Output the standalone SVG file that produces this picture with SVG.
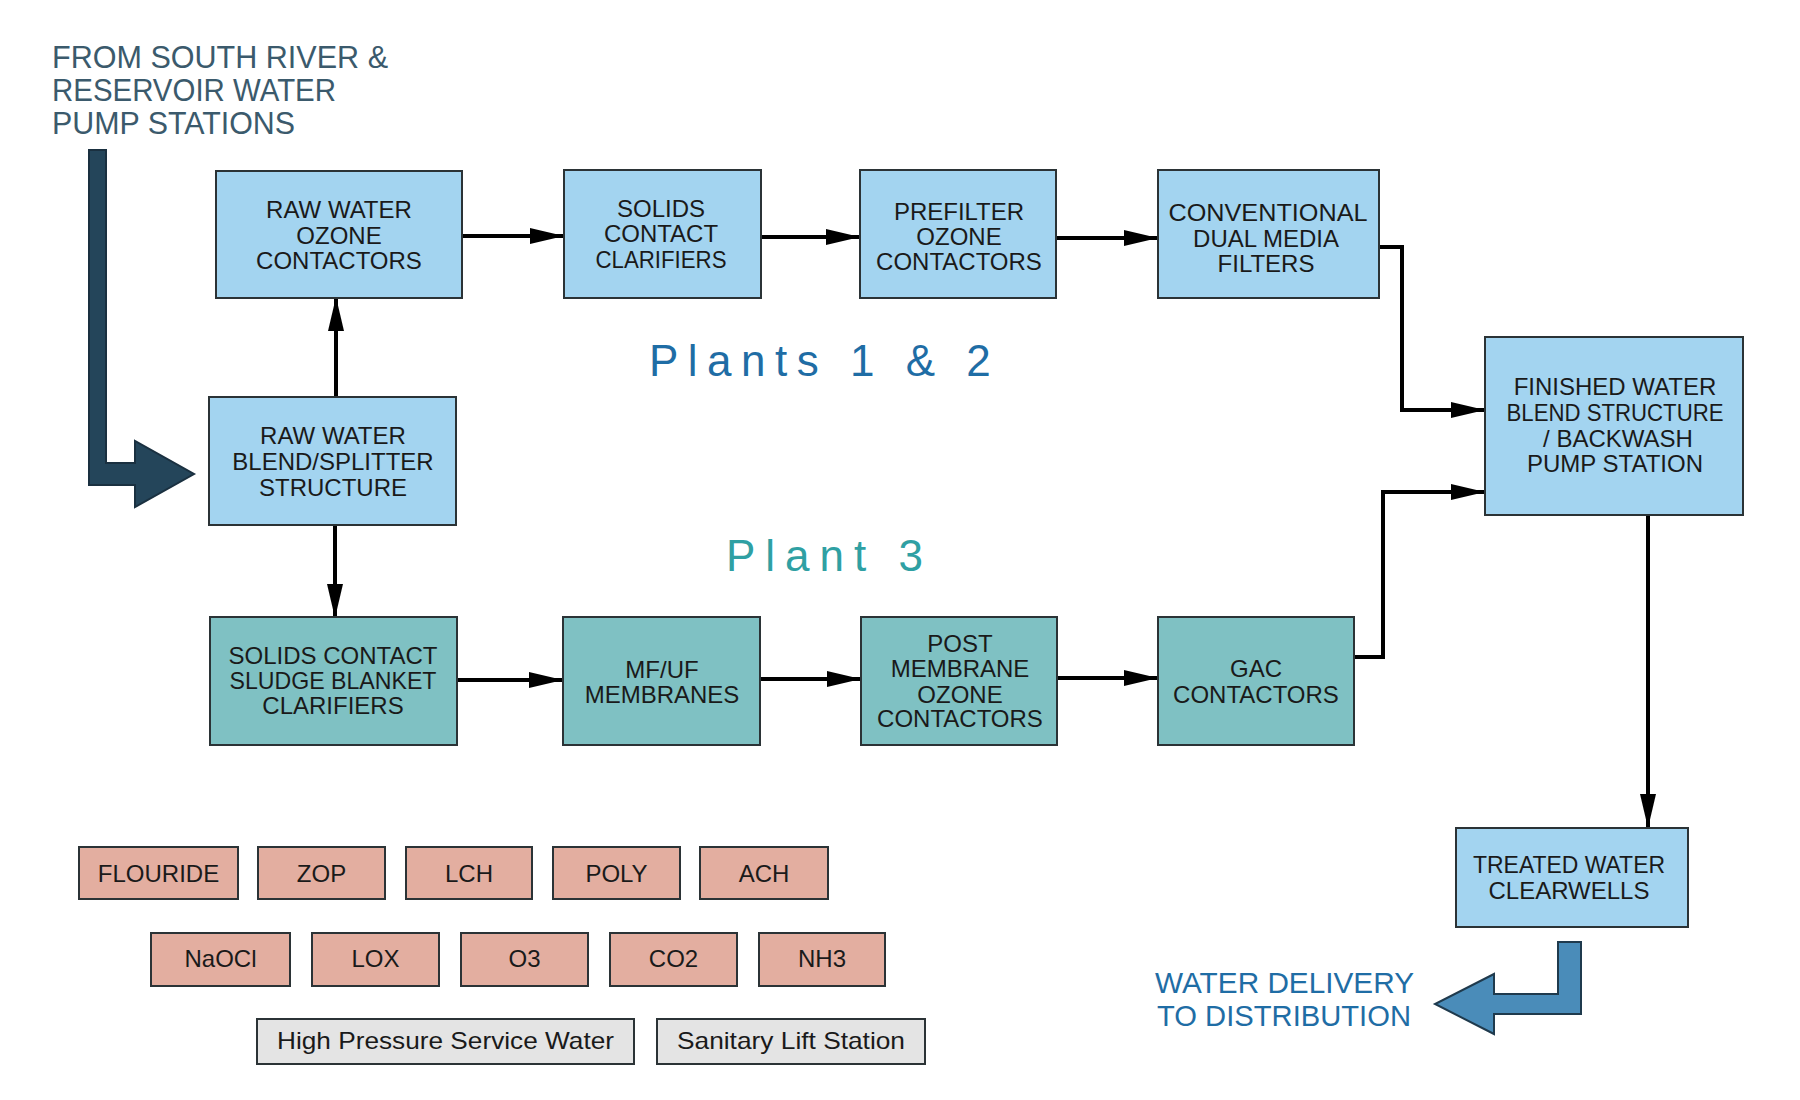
<svg xmlns="http://www.w3.org/2000/svg" width="1800" height="1100" viewBox="0 0 1800 1100">
<defs>
<style>
.lb{fill:#a3d4f0;stroke:#2b3336;stroke-width:2}
.tl{fill:#7fc1c3;stroke:#2b3336;stroke-width:2}
.pk{fill:#e3aea0;stroke:#2b3336;stroke-width:2}
.gy{fill:#e4e4e4;stroke:#2b3336;stroke-width:2}
.t{font-family:"Liberation Sans",Arial,sans-serif;font-size:24px;fill:#1a1a1a;text-anchor:middle}
.ti{font-family:"Liberation Sans",Arial,sans-serif;font-size:31px;fill:#3b5a6c}
.dl{font-family:"Liberation Sans",Arial,sans-serif;font-size:29px;fill:#1f6da5}
.c{fill:none;stroke:#000;stroke-width:4;marker-end:url(#ah)}
</style>
<marker id="ah" markerUnits="userSpaceOnUse" viewBox="0 0 34 16" markerWidth="34" markerHeight="16" refX="33" refY="8" orient="auto">
<path d="M0,0 L34,8 L0,16 Z" fill="#000"/>
</marker>
</defs>
<rect width="1800" height="1100" fill="#fff"/>

<g id="title">
<text class="ti" x="52" y="68" textLength="336" lengthAdjust="spacingAndGlyphs">FROM SOUTH RIVER &amp;</text>
<text class="ti" x="52" y="101" textLength="284" lengthAdjust="spacingAndGlyphs">RESERVOIR WATER</text>
<text class="ti" x="52" y="134" textLength="243" lengthAdjust="spacingAndGlyphs">PUMP STATIONS</text>
</g>
<g id="inflow-arrow">
<path d="M89,150 H106 V463 H135 V441 L194,474 L135,507 V485 H89 Z" fill="#24455a" stroke="#1a3040" stroke-width="2"/>
</g>

<g id="connectors">
<path class="c" d="M336,397 V298"/>
<path class="c" d="M335,525 V617"/>
<path class="c" d="M462,236 H563"/>
<path class="c" d="M761,237 H859"/>
<path class="c" d="M1056,238 H1157"/>
<path class="c" d="M1379,247 H1402 V410 H1484"/>
<path class="c" d="M457,680 H562"/>
<path class="c" d="M760,679 H860"/>
<path class="c" d="M1057,678 H1157"/>
<path class="c" d="M1354,657 H1383 V492 H1484"/>
<path class="c" d="M1648,515 V827"/>
</g>

<g id="raw-ozone"><rect class="lb" x="216" y="171" width="246" height="127"/>
<text class="t" x="339" y="218">RAW WATER</text><text class="t" x="339" y="244">OZONE</text><text class="t" x="339" y="269">CONTACTORS</text></g>
<g id="blend"><rect class="lb" x="209" y="397" width="247" height="128"/>
<text class="t" x="333" y="444">RAW WATER</text><text class="t" x="333" y="470">BLEND/SPLITTER</text><text class="t" x="333" y="496">STRUCTURE</text></g>
<g id="solids"><rect class="lb" x="564" y="170" width="197" height="128"/>
<text class="t" x="661" y="217">SOLIDS</text><text class="t" x="661" y="242">CONTACT</text><text class="t" x="661" y="268" textLength="131" lengthAdjust="spacingAndGlyphs">CLARIFIERS</text></g>
<g id="prefilter"><rect class="lb" x="860" y="170" width="196" height="128"/>
<text class="t" x="959" y="220">PREFILTER</text><text class="t" x="959" y="245">OZONE</text><text class="t" x="959" y="270">CONTACTORS</text></g>
<g id="conventional"><rect class="lb" x="1158" y="170" width="221" height="128"/>
<text class="t" x="1268" y="221" textLength="199" lengthAdjust="spacingAndGlyphs">CONVENTIONAL</text><text class="t" x="1266" y="247">DUAL MEDIA</text><text class="t" x="1266" y="272">FILTERS</text></g>
<g id="finished"><rect class="lb" x="1485" y="337" width="258" height="178"/>
<text class="t" x="1615" y="395">FINISHED WATER</text><text class="t" x="1615" y="421" textLength="217" lengthAdjust="spacingAndGlyphs">BLEND STRUCTURE</text><text class="t" x="1618" y="447">/ BACKWASH</text><text class="t" x="1615" y="472">PUMP STATION</text></g>
<g id="sludge"><rect class="tl" x="210" y="617" width="247" height="128"/>
<text class="t" x="333" y="664">SOLIDS CONTACT</text><text class="t" x="333" y="689" textLength="207" lengthAdjust="spacingAndGlyphs">SLUDGE BLANKET</text><text class="t" x="333" y="714">CLARIFIERS</text></g>
<g id="mfuf"><rect class="tl" x="563" y="617" width="197" height="128"/>
<text class="t" x="662" y="678">MF/UF</text><text class="t" x="662" y="703">MEMBRANES</text></g>
<g id="post"><rect class="tl" x="861" y="617" width="196" height="128"/>
<text class="t" x="960" y="652">POST</text><text class="t" x="960" y="677">MEMBRANE</text><text class="t" x="960" y="703">OZONE</text><text class="t" x="960" y="727">CONTACTORS</text></g>
<g id="gac"><rect class="tl" x="1158" y="617" width="196" height="128"/>
<text class="t" x="1256" y="677">GAC</text><text class="t" x="1256" y="703">CONTACTORS</text></g>
<g id="treated"><rect class="lb" x="1456" y="828" width="232" height="99"/>
<text class="t" x="1569" y="873" textLength="192" lengthAdjust="spacingAndGlyphs">TREATED WATER</text><text class="t" x="1569" y="899">CLEARWELLS</text></g>

<g id="plants12"><text x="649" y="376" font-family="Liberation Sans, Arial, sans-serif" font-size="44" letter-spacing="9.5" fill="#1f6da5">Plants 1 &amp; 2</text></g>
<g id="plant3"><text x="726" y="571" font-family="Liberation Sans, Arial, sans-serif" font-size="44" letter-spacing="10" fill="#2fa0a3">Plant 3</text></g>

<g id="delivery-arrow">
<path d="M1558,942 H1581 V1014 H1494 V1034 L1435,1004 L1494,974 V994 H1558 Z" fill="#4a8cb9" stroke="#1f3a4d" stroke-width="2"/>
</g>
<g id="delivery-label">
<text class="dl" x="1155" y="993" textLength="259" lengthAdjust="spacingAndGlyphs">WATER DELIVERY</text>
<text class="dl" x="1157" y="1026" textLength="254" lengthAdjust="spacingAndGlyphs">TO DISTRIBUTION</text>
</g>

<g id="flouride"><rect class="pk" x="79" y="847" width="159" height="52"/><text class="t" x="158.5" y="882">FLOURIDE</text></g>
<g id="zop"><rect class="pk" x="258" y="847" width="127" height="52"/><text class="t" x="321.5" y="882">ZOP</text></g>
<g id="lch"><rect class="pk" x="406" y="847" width="126" height="52"/><text class="t" x="469" y="882">LCH</text></g>
<g id="poly"><rect class="pk" x="553" y="847" width="127" height="52"/><text class="t" x="616.5" y="882">POLY</text></g>
<g id="ach"><rect class="pk" x="700" y="847" width="128" height="52"/><text class="t" x="764" y="882">ACH</text></g>
<g id="naocl"><rect class="pk" x="151" y="933" width="139" height="53"/><text class="t" x="220.5" y="967">NaOCl</text></g>
<g id="lox"><rect class="pk" x="312" y="933" width="127" height="53"/><text class="t" x="375.5" y="967">LOX</text></g>
<g id="o3"><rect class="pk" x="461" y="933" width="127" height="53"/><text class="t" x="524.5" y="967">O3</text></g>
<g id="co2"><rect class="pk" x="610" y="933" width="127" height="53"/><text class="t" x="673.5" y="967">CO2</text></g>
<g id="nh3"><rect class="pk" x="759" y="933" width="126" height="53"/><text class="t" x="822" y="967">NH3</text></g>
<g id="hpsw"><rect class="gy" x="257" y="1019" width="377" height="45"/><text class="t" x="445.5" y="1049" textLength="337" lengthAdjust="spacingAndGlyphs">High Pressure Service Water</text></g>
<g id="sls"><rect class="gy" x="657" y="1019" width="268" height="45"/><text class="t" x="791" y="1049" textLength="228" lengthAdjust="spacingAndGlyphs">Sanitary Lift Station</text></g>
</svg>
